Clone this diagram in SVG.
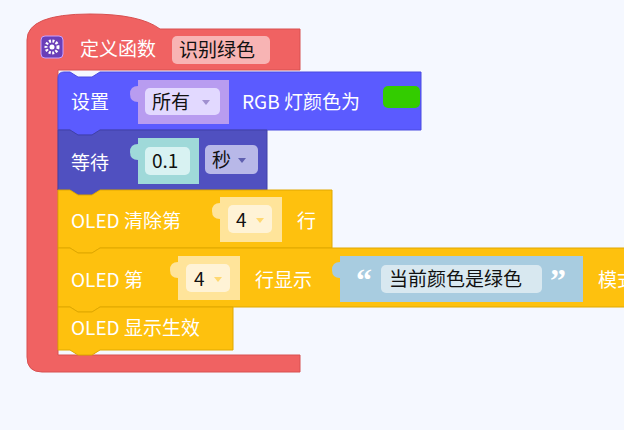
<svg xmlns="http://www.w3.org/2000/svg" width="624" height="430" viewBox="0 0 624 430">
<style>
.t{font-family:"Noto Sans CJK SC","Liberation Sans",sans-serif;font-size:19px;fill:#fff}
.d{font-family:"Noto Sans CJK SC","Liberation Sans",sans-serif;font-size:19px;fill:#111}
</style>
<rect width="624" height="430" fill="#f5f8ff"/>
<g id="func">
<path d="M27,40 Q27,14 90,14 Q140,14 160,29 L300,29 L300,70 L58,70 L58,355 L300,355 L300,372 L42,372 Q27,372 27,357 Z" fill="#f06262" stroke="#d85050" stroke-width="1"/>
<rect x="41" y="36" width="22" height="22" rx="4" fill="#6a3fb8" stroke="#c9a0ff" stroke-width="1"/>
<circle cx="52" cy="47" r="6" fill="none" stroke="#fff" stroke-width="3" stroke-dasharray="2 1.5"/>
<circle cx="52" cy="47" r="2.5" fill="#fff"/>
<text class="t" x="80" y="56">定义函数</text>
<rect x="172" y="36" width="98" height="28" rx="5" fill="#f8b4b4"/>
<text class="d" x="179" y="57">识别绿色</text>
</g>
<g id="set">
<path d="M58,78 Q58,72 64,72 L70,72 L78,77 L92,77 L100,72 L421,72 L421,130 L100,130 L92,135 L78,135 L70,130 L58,130 Z" fill="#5b5bff" stroke="#4a4ae0"/>
<text class="t" x="71" y="109">设置</text>
<rect x="138" y="80" width="91" height="44" fill="#b89cf0"/>
<path d="M138,86 Q130,86 130,94 Q130,102 138,102 Z" fill="#b89cf0"/>
<rect x="145" y="88" width="75" height="27" rx="5" fill="#e2d9ff"/>
<text class="d" x="152" y="109">所有</text>
<path d="M202,100 L210,100 L206,105 Z" fill="#a090d0"/>
<text class="t" x="242" y="109">RGB 灯颜色为</text>
<rect x="383" y="86" width="37" height="22" rx="5" fill="#33cc00"/>
</g>
<g id="wait">
<path d="M58,130 L70,130 L78,135 L92,135 L100,130 L267,130 L267,190 L100,190 L92,195 L78,195 L70,190 L58,190 Z" fill="#5050c0" stroke="#4040a8"/>
<text class="t" x="71" y="170">等待</text>
<rect x="138" y="138" width="61" height="46" fill="#9fd9d9"/>
<path d="M138,144 Q130,144 130,152 Q130,160 138,160 Z" fill="#9fd9d9"/>
<rect x="145" y="147" width="45" height="28" rx="5" fill="#d8f2f2"/>
<text class="d" x="152" y="168">0.1</text>
<rect x="205" y="145" width="53" height="29" rx="5" fill="#b8b8e8"/>
<text class="d" x="212" y="167">秒</text>
<path d="M238,158 L246,158 L242,163 Z" fill="#6060b0"/>
</g>
<g id="oledclear">
<path d="M58,190 L70,190 L78,195 L92,195 L100,190 L332,190 L332,248 L100,248 L92,253 L78,253 L70,248 L58,248 Z" fill="#fec10e" stroke="#e0a800"/>
<text class="t" x="71" y="228">OLED 清除第</text>
<rect x="220" y="197" width="62" height="45" fill="#ffe49a"/>
<path d="M220,203 Q212,203 212,211 Q212,219 220,219 Z" fill="#ffe49a"/>
<rect x="228" y="205" width="44" height="28" rx="5" fill="#fff3d6"/>
<text class="d" x="236" y="227">4</text>
<path d="M256,218 L264,218 L260,223 Z" fill="#ffd870"/>
<text class="t" x="297" y="228">行</text>
</g>
<g id="oledshow">
<path d="M58,248 L70,248 L78,253 L92,253 L100,248 L630,248 L630,307 L100,307 L92,312 L78,312 L70,307 L58,307 Z" fill="#fec10e" stroke="#e0a800"/>
<text class="t" x="71" y="287">OLED 第</text>
<rect x="178" y="256" width="62" height="44" fill="#ffe49a"/>
<path d="M178,262 Q170,262 170,270 Q170,278 178,278 Z" fill="#ffe49a"/>
<rect x="186" y="264" width="44" height="28" rx="5" fill="#fff3d6"/>
<text class="d" x="194" y="286">4</text>
<path d="M214,277 L222,277 L218,282 Z" fill="#ffd870"/>
<text class="t" x="255" y="287">行显示</text>
<rect x="340" y="256" width="243" height="46" fill="#a8cce0"/>
<path d="M340,262 Q332,262 332,270 Q332,278 340,278 Z" fill="#a8cce0"/>
<text x="356" y="291" style="font-family:'Liberation Serif',serif;font-size:32px;font-weight:bold;fill:#fff">“</text>
<rect x="381" y="265" width="161" height="28" rx="5" fill="#d8e8f0"/>
<text class="d" x="389" y="286">当前颜色是绿色</text>
<text x="550" y="291" style="font-family:'Liberation Serif',serif;font-size:32px;font-weight:bold;fill:#fff">”</text>
<text class="t" x="598" y="287">模式</text>
</g>
<g id="oledflush">
<path d="M58,307 L70,307 L78,312 L92,312 L100,307 L233,307 L233,350 L100,350 L92,355 L78,355 L70,350 L58,350 Z" fill="#fec10e" stroke="#e0a800"/>
<text class="t" x="71" y="335">OLED 显示生效</text>
</g>
<g id="connectors"/>
</svg>
